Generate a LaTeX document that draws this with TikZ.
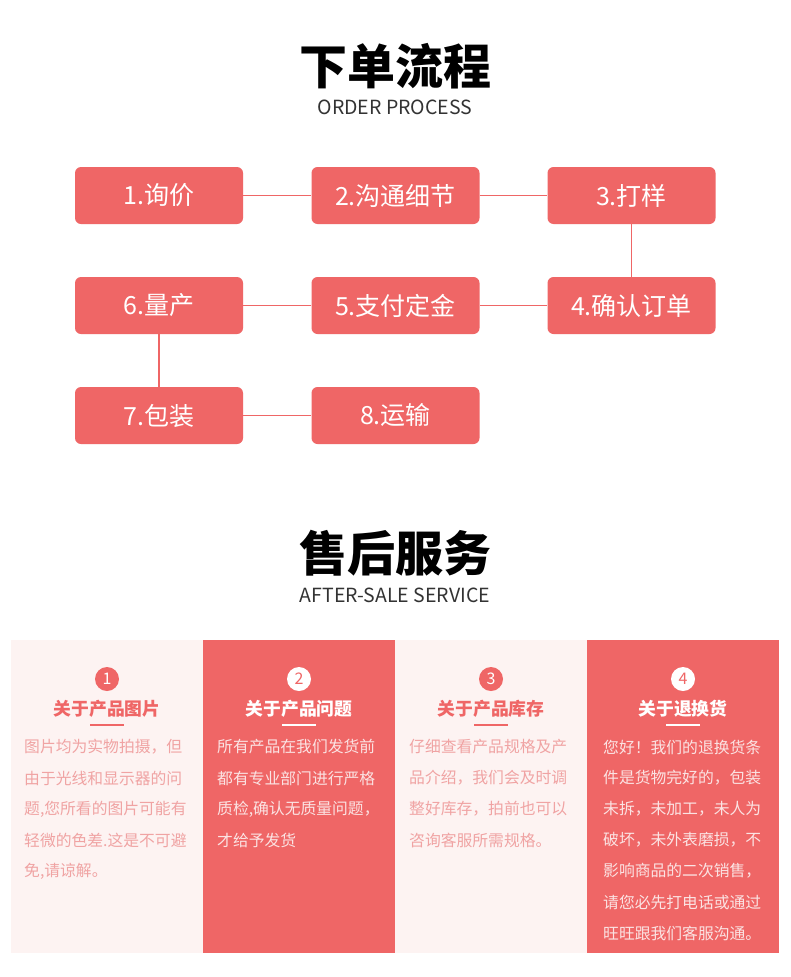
\documentclass[tikz,border=0pt]{standalone}
\usepackage{fontspec}
\setmainfont{Noto Sans CJK SC}
\definecolor{red1}{HTML}{EF6666}
\definecolor{pale}{HTML}{FDF3F2}
\definecolor{ptext}{HTML}{F0A3A3}
\definecolor{wtext}{HTML}{FBE3E3}
\begin{document}
\begin{tikzpicture}[x=1pt,y=-1pt,
  stepbox/.style={fill=red1,rounded corners=6pt,minimum width=168pt,minimum height=57pt,text=white,font=\fontsize{25}{28}\selectfont,inner sep=0pt},
  body/.style={anchor=west,font=\fontsize{15.8}{18}\selectfont,inner sep=0pt},
  head/.style={font=\bfseries\fontsize{17.8}{20}\selectfont,inner sep=0pt},
  num/.style={circle,minimum size=24pt,inner sep=0pt,font=\fontsize{16}{17}\selectfont}]
\useasboundingbox (0,0) rectangle (790,977);
\fill[white] (0,0) rectangle (790,977);
\node[font=\bfseries\fontsize{48}{52}\selectfont] (t1) at (395,66) {下单流程};
\node[font=\fontsize{19.5}{22}\selectfont,text=black!80] (t1e) at (395,107) {ORDER PROCESS};
\node[stepbox] (s1) at (159,195.5) {1.询价};
\node[stepbox] (s2) at (395.5,195.5) {2.沟通细节};
\node[stepbox] (s3) at (631.5,195.5) {3.打样};
\node[stepbox] (s4) at (631.5,305.5) {4.确认订单};
\node[stepbox] (s5) at (395.5,305.5) {5.支付定金};
\node[stepbox] (s6) at (159,305.5) {6.量产};
\node[stepbox] (s7) at (159,415.5) {7.包装};
\node[stepbox] (s8) at (395.5,415.5) {8.运输};
\begin{scope}[red1,line width=1.8pt]
\draw (s1) -- (s2); \draw (s2) -- (s3); \draw (s3) -- (s4);
\draw (s4) -- (s5); \draw (s5) -- (s6); \draw (s6) -- (s7);
\draw (s7) -- (s8);
\end{scope}
\node[font=\bfseries\fontsize{48}{52}\selectfont] (t2) at (395,553) {售后服务};
\node[font=\fontsize{19.5}{22}\selectfont,text=black!80] (t2e) at (395,595) {AFTER-SALE SERVICE};
% panels
\fill[pale] (11,640) rectangle (203,953);
\fill[red1] (203,640) rectangle (395,953);
\fill[pale] (395,640) rectangle (587,953);
\fill[red1] (587,640) rectangle (779,953);
% panel 1
\node[num,fill=red1,text=white] (n1) at (107,679) {1};
\node[head,text=red1] (h1) at (107,709) {关于产品图片};
\draw[red1,line width=1.5pt] (90,725) -- (124,725);
\foreach \l [count=\i from 0] in {图片均为实物拍摄，但,由于光线和显示器的问,题{,}您所看的图片可能有,轻微的色差.这是不可避,免{,}请谅解。}
  \node[body,text=ptext] at (24,{747+31*\i}) {\l};
% panel 2
\node[num,fill=white,text=red1] (n2) at (299,679) {2};
\node[head,text=white] (h2) at (299,709) {关于产品问题};
\draw[white,line width=1.5pt] (282,725) -- (316,725);
\foreach \l [count=\i from 0] in {所有产品在我们发货前,都有专业部门进行严格,质检{,}确认无质量问题，,才给予发货}
  \node[body,text=wtext] at (217,{747+31*\i}) {\l};
% panel 3
\node[num,fill=red1,text=white] (n3) at (491,679) {3};
\node[head,text=red1] (h3) at (491,709) {关于产品库存};
\draw[red1,line width=1.5pt] (474,725) -- (508,725);
\foreach \l [count=\i from 0] in {仔细查看产品规格及产,品介绍，我们会及时调,整好库存，拍前也可以,咨询客服所需规格。}
  \node[body,text=ptext] at (409,{747+31*\i}) {\l};
% panel 4
\node[num,fill=white,text=red1] (n4) at (683,679) {4};
\node[head,text=white] (h4) at (683,709) {关于退换货};
\draw[white,line width=1.5pt] (666,725) -- (700,725);
\foreach \l [count=\i from 0] in {您好！我们的退换货条,件是货物完好的，包装,未拆，未加工，未人为,破坏，未外表磨损，不,影响商品的二次销售，,请您必先打电话或通过,旺旺跟我们客服沟通。}
  \node[body,text=wtext] at (603,{747+31*\i}) {\l};
\end{tikzpicture}
\end{document}
